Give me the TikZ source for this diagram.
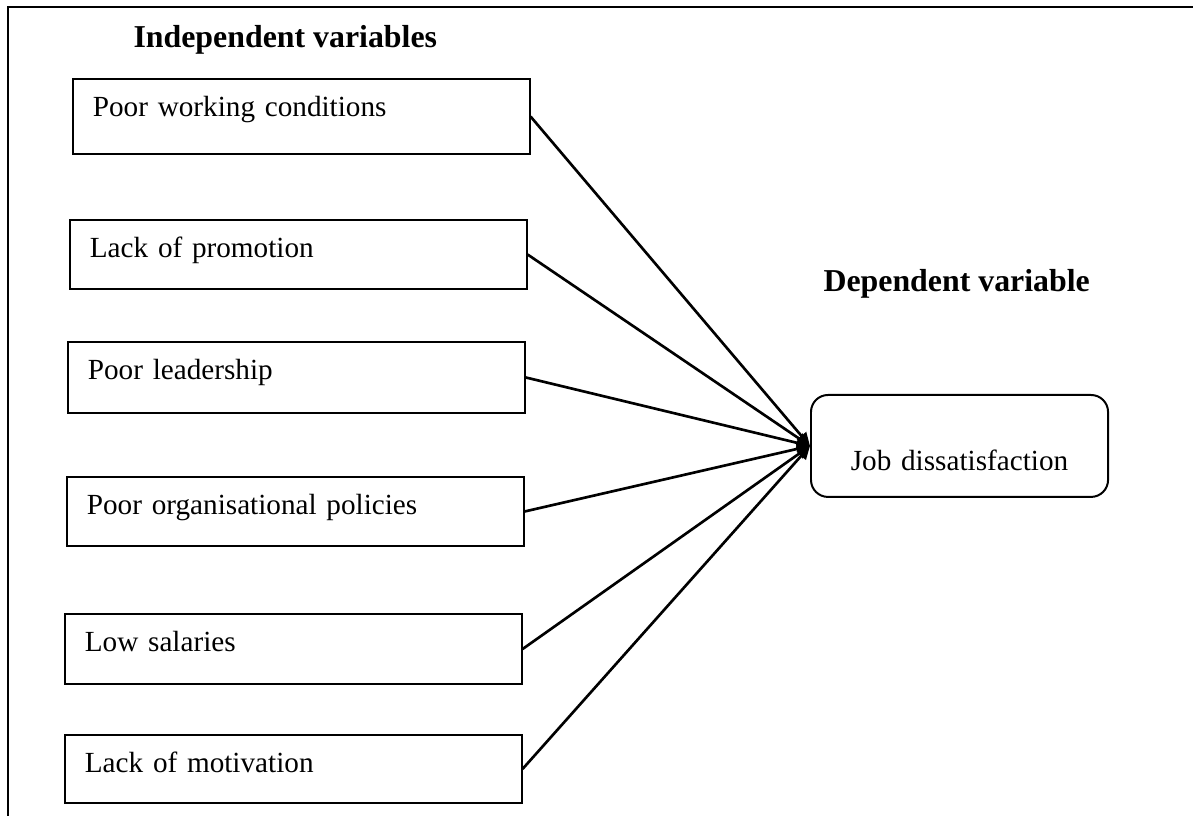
\documentclass[tikz,border=0pt]{standalone}
\usepackage{fontspec}
\setmainfont{Liberation Serif}
\usepackage{tikz}
\usetikzlibrary{positioning,arrows.meta}
\tikzstyle{frameLine} = [color=black, line width=0.9pt]
\tikzstyle{causeStyle} = [draw, line width=0.75pt, anchor=north west, inner xsep=7.5pt, inner ysep=0pt, text width=157pt, align=left, text height=14.3pt, font=\fontsize{11pt}{13pt}\selectfont]
\tikzstyle{effectStyle} = [draw, line width=0.75pt, rounded corners=6.4pt, anchor=north west, inner sep=0pt, text width=111.9pt, align=center, text height=28.6pt, text depth=9.8pt, font=\fontsize{11pt}{13pt}\selectfont]
\tikzstyle{headingText} = [anchor=base west, inner sep=0pt, font=\fontsize{12pt}{14pt}\selectfont\bfseries]
\tikzstyle{arrowLine} = [line width=1pt, -{Triangle[length=5pt, width=4.5pt]}]
\newcommand{\causeBox}[4]{\node [causeStyle, text depth=#3] (#1) at (#2) {#4};}

\begin{document}
\begin{tikzpicture}[x=0.3767pt, y=-0.3767pt]
          \useasboundingbox (0,0) rectangle (1193,816);
          \draw [frameLine] (8,816) -- (8,7) -- (1193,7);

          \node [headingText] (indepHead) at (133,48) {Independent variables};
          \node [headingText] (depHead) at (823,292) {Dependent variable};

          \causeBox{working}{72,78}{14.0pt}{Poor working conditions}
          \causeBox{promotion}{69,219}{11.7pt}{Lack of promotion}
          \causeBox{leadership}{67,341}{12.4pt}{Poor leadership}
          \causeBox{policies}{66,476}{11.7pt}{Poor organisational policies}
          \causeBox{salaries}{64,613}{12.1pt}{Low salaries}
          \causeBox{motivation}{64,734}{11.3pt}{Lack of motivation}

          \node [effectStyle] (job) at (810,394) {Job dissatisfaction};

          \foreach \cause in {working,promotion,leadership,policies,salaries,motivation}
            \draw [arrowLine] (\cause.east) -- (job.west);
        \end{tikzpicture}
\end{document}
